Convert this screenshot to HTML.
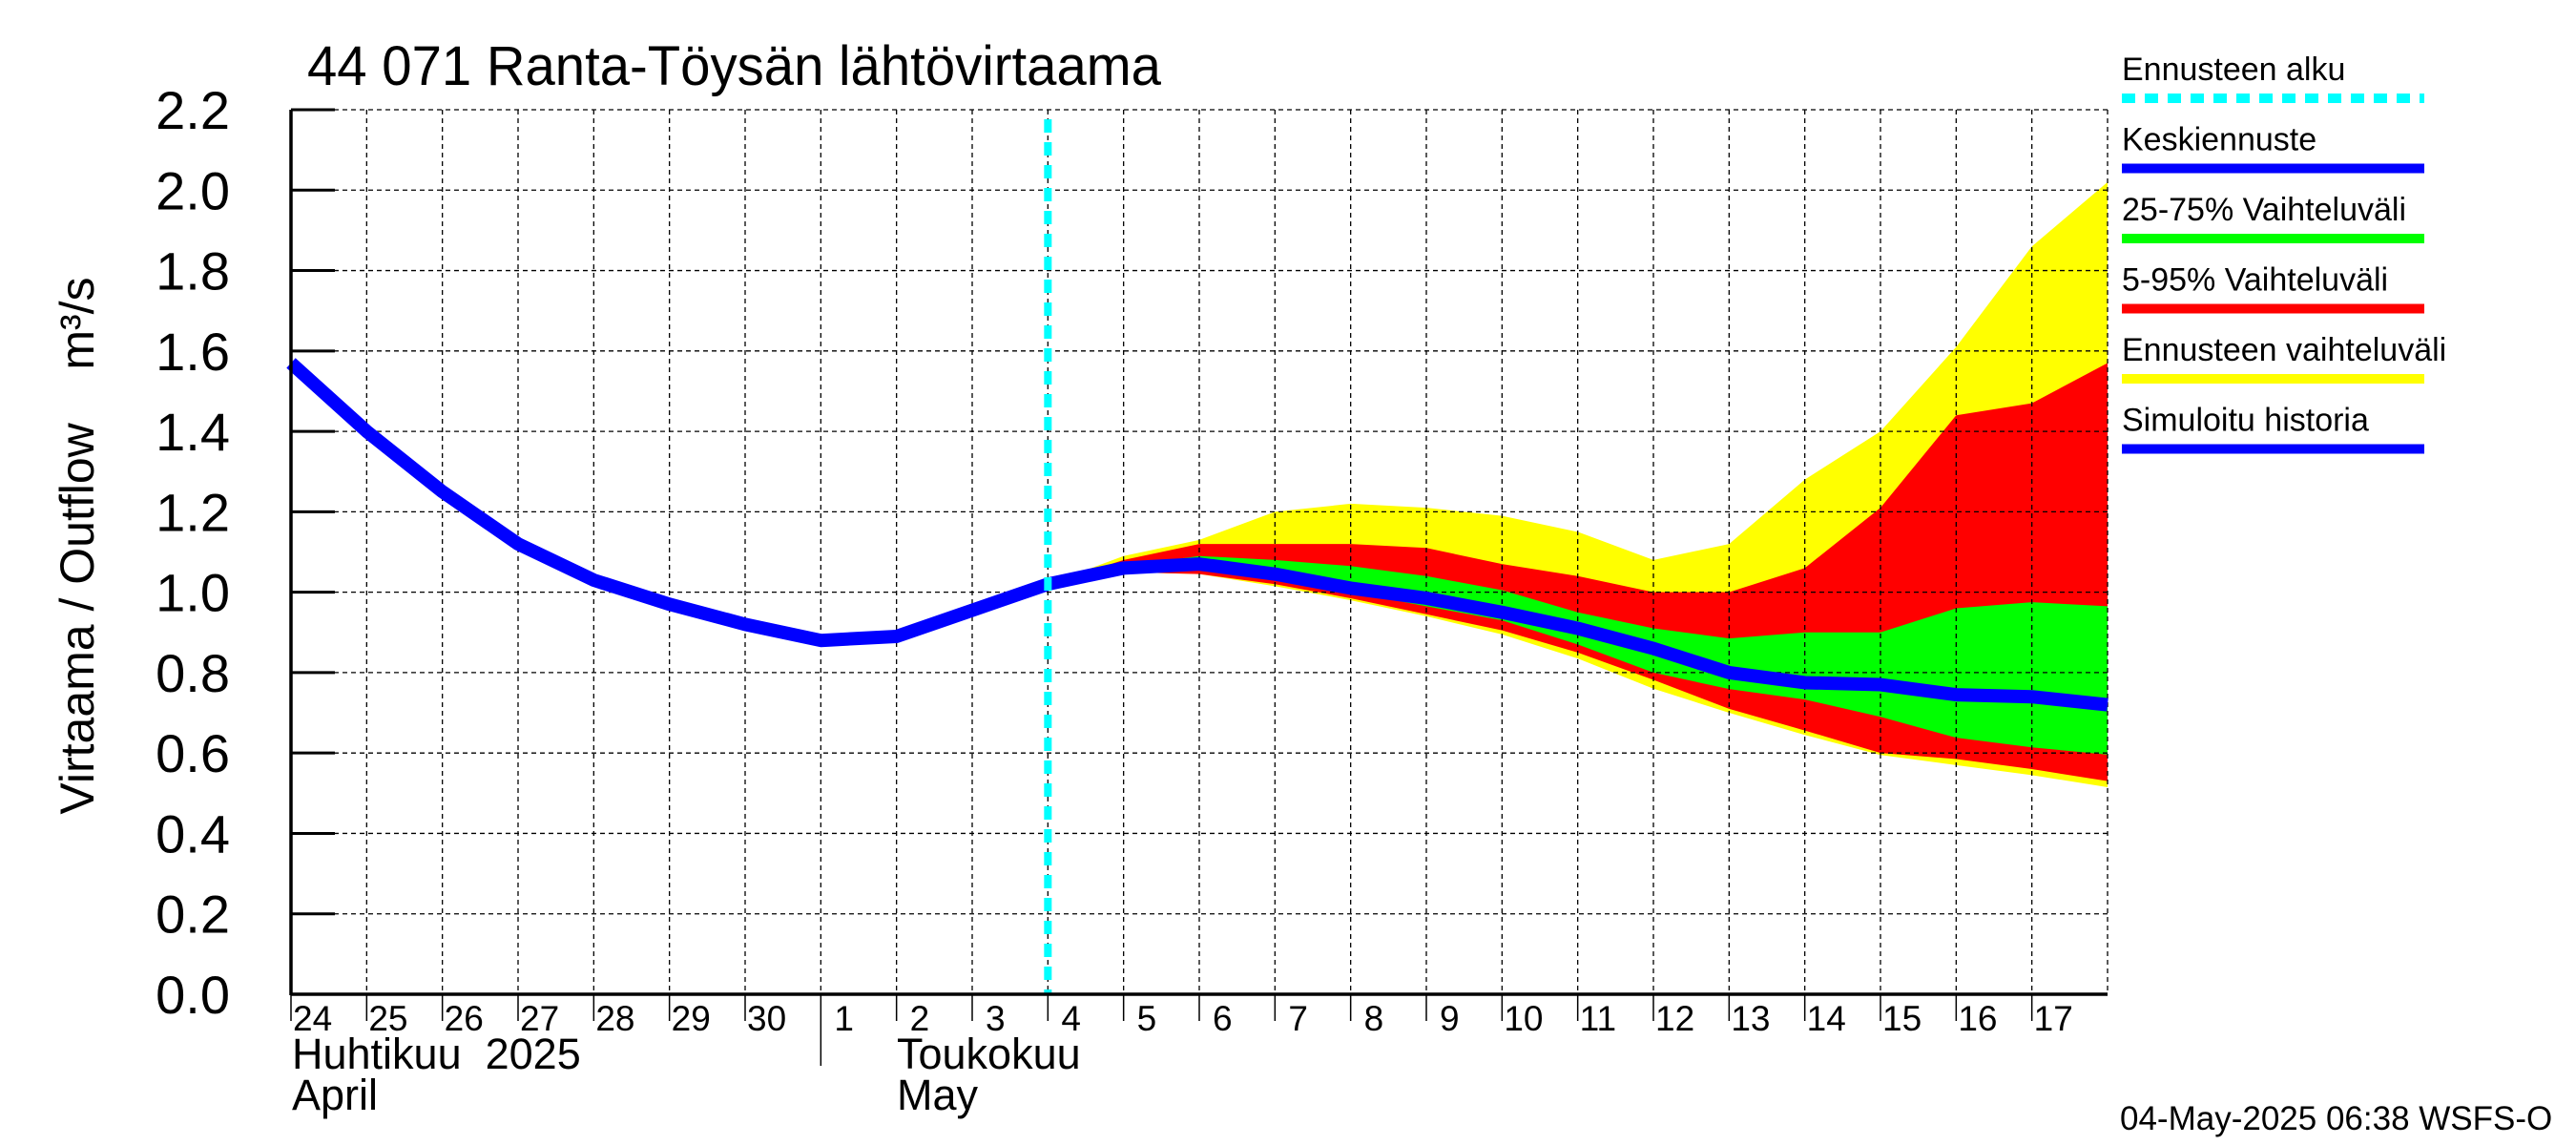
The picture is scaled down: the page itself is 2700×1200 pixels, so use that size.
<!DOCTYPE html>
<html><head><meta charset="utf-8"><style>
html,body{margin:0;padding:0;background:#fff}
svg{display:block}
text{font-family:"Liberation Sans",sans-serif;fill:#000}
</style></head><body>
<svg id="chart" width="2700" height="1200" viewBox="0 0 2700 1200">
<text x="322" y="89" font-size="58" textLength="895" lengthAdjust="spacingAndGlyphs">44 071 Ranta-Töysän lähtövirtaama</text>
<text transform="translate(98,572) rotate(-90)" text-anchor="middle" font-size="50" style="white-space:pre">Virtaama / Outflow    m³/s</text>
<g id="bands"></g><g id="grid"></g><g id="lines"></g><g id="axes"></g>
<g id="legend"></g>
<text x="2222" y="1184" font-size="35">04-May-2025 06:38 WSFS-O</text>
</svg>
<script>
const histValues=[1.57,1.40,1.25,1.12,1.03,0.97,0.92,0.88,0.89,0.955,1.02];
const fcDays=[10,11,12,13,14,15,16,17,18,19,20,21,22,23,24];
const median=[1.02,1.06,1.07,1.045,1.01,0.985,0.95,0.91,0.86,0.80,0.775,0.77,0.745,0.74,0.72];
const yelHi=[1.02,1.09,1.13,1.20,1.22,1.21,1.19,1.15,1.08,1.12,1.28,1.40,1.61,1.86,2.02];
const yelLo=[1.02,1.05,1.045,1.015,0.98,0.94,0.895,0.835,0.76,0.70,0.645,0.595,0.57,0.545,0.515];
const redHi=[1.02,1.08,1.12,1.12,1.12,1.11,1.07,1.04,1.0,1.0,1.06,1.21,1.44,1.47,1.57];
const redLo=[1.02,1.05,1.045,1.02,0.985,0.945,0.905,0.85,0.782,0.71,0.656,0.60,0.585,0.56,0.53];
const grnHi=[1.02,1.065,1.09,1.08,1.065,1.04,1.005,0.95,0.91,0.885,0.90,0.90,0.96,0.975,0.965];
const grnLo=[1.02,1.055,1.055,1.03,1.0,0.965,0.93,0.87,0.80,0.759,0.733,0.69,0.638,0.614,0.596];
const yTicks=[0,0.2,0.4,0.6,0.8,1.0,1.2,1.4,1.6,1.8,2.0,2.2];
const dayLabels=["24","25","26","27","28","29","30","1","2","3","4","5","6","7","8","9","10","11","12","13","14","15","16","17"];
const forecastStart=10;
const legendItems=["Ennusteen alku","Keskiennuste","25-75% Vaihteluväli","5-95% Vaihteluväli","Ennusteen vaihteluväli","Simuloitu historia"];
const legendColors=["#00ffff","#0000ff","#00ff00","#ff0000","#ffff00","#0000ff"];

const L=305,R=2209,T=115,B=1042,ND=24,YMAX=2.2;
const X=d=>L+(R-L)*d/ND;
const Y=v=>B-(B-T)*v/YMAX;
const NS="http://www.w3.org/2000/svg";
function mk(tag,attrs,parent){const e=document.createElementNS(NS,tag);for(const k in attrs)e.setAttribute(k,attrs[k]);parent.appendChild(e);return e;}
const gB=document.getElementById('bands'),gG=document.getElementById('grid'),gL=document.getElementById('lines'),gA=document.getElementById('axes'),gLeg=document.getElementById('legend');
function band(hi,lo,color,name){
  let p=fcDays.map((d,i)=>X(d)+','+Y(hi[i])).concat(fcDays.slice().reverse().map((d,j)=>{const i=fcDays.length-1-j;return X(d)+','+Y(lo[i]);}));
  const e=mk('polygon',{points:p.join(' '),fill:color},gB);
  
  
}
band(yelHi,yelLo,'#ffff00','band-forecast-range');
band(redHi,redLo,'#ff0000','band-5-95');
band(grnHi,grnLo,'#00ff00','band-25-75');
for(let d=1;d<=ND;d++){const e=mk('line',{x1:X(d),x2:X(d),y1:T,y2:B,stroke:'#000','stroke-width':1.3,'stroke-dasharray':'5,4'},gG);

}
yTicks.forEach(v=>{if(v===0)return;const e=mk('line',{x1:L,x2:R,y1:Y(v),y2:Y(v),stroke:'#000','stroke-width':1.3,'stroke-dasharray':'5,4'},gG);

});
const hist=mk('polyline',{points:histValues.map((v,i)=>X(i)+','+Y(v)).join(' '),fill:'none',stroke:'#0000ff','stroke-width':14,'stroke-linejoin':'round'},gL);


const med=mk('polyline',{points:fcDays.map((d,i)=>X(d)+','+Y(median[i])).join(' '),fill:'none',stroke:'#0000ff','stroke-width':14,'stroke-linejoin':'round'},gL);


const cy=mk('line',{x1:X(forecastStart),x2:X(forecastStart),y1:T+10,y2:B,stroke:'#00ffff','stroke-width':8,'stroke-dasharray':'14,10'},gL);


mk('line',{x1:L,x2:L,y1:T,y2:B+1,stroke:'#000','stroke-width':3.5},gA);
mk('line',{x1:L,x2:R,y1:B,y2:B,stroke:'#000','stroke-width':3.5},gA);
yTicks.forEach(v=>{
  mk('line',{x1:L,x2:L+46,y1:Y(v),y2:Y(v),stroke:'#000','stroke-width':3},gA);
  const t=mk('text',{x:241,y:Y(v)+20,'font-size':56,'text-anchor':'end'},gA);t.textContent=v.toFixed(1);
  
  
});
dayLabels.forEach((s,i)=>{
  mk('line',{x1:X(i),x2:X(i),y1:B,y2:B+(i===7?75:28),stroke:'#000','stroke-width':1.5},gA);
  const t=mk('text',{x:X(i)+(s.length===1?14:2),y:1080,'font-size':37},gA);t.textContent=s;
  
  
});
[["Huhtikuu  2025",306,1120],["April",306,1163],["Toukokuu",940,1120],["May",940,1163]].forEach(a=>{
  const t=mk('text',{x:a[1],y:a[2],'font-size':45,style:'white-space:pre'},gA);t.textContent=a[0];
  
  
});
legendItems.forEach((s,i)=>{
  const y0=84+i*73.5;
  const t=mk('text',{x:2224,y:y0,'font-size':34},gLeg);t.textContent=s;
  
  
  const a={x1:2224,x2:2541,y1:y0+19,y2:y0+19,stroke:legendColors[i],'stroke-width':10};
  if(i===0)a['stroke-dasharray']='14,10';
  mk('line',a,gLeg);
});
</script>
</body></html>
